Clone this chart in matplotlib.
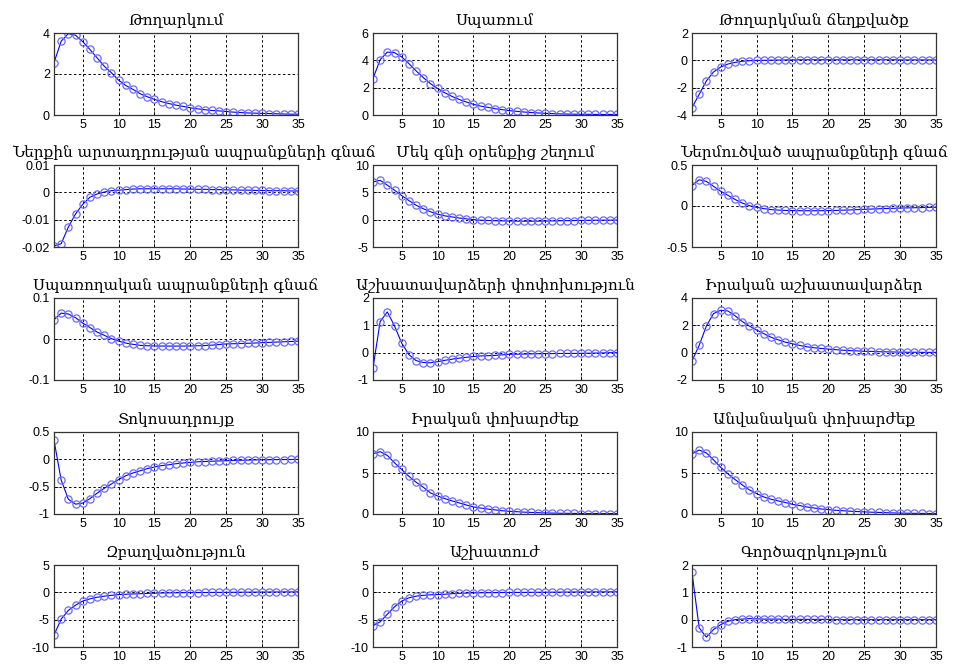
import matplotlib
matplotlib.use("Agg")
import matplotlib.pyplot as plt
import numpy as np

periods = np.arange(1, 36)

titles = [
    "Թողարկում",
    "Սպառում",
    "Թողարկման ճեղքվածք",
    "Ներքին արտադրության ապրանքների գնաճ",
    "Մեկ գնի օրենքից շեղում",
    "Ներմուծված ապրանքների գնաճ",
    "Սպառողական ապրանքների գնաճ",
    "Աշխատավարձերի փոփոխություն",
    "Իրական աշխատավարձեր",
    "Տոկոսադրույք",
    "Իրական փոխարժեք",
    "Անվանական փոխարժեք",
    "Զբաղվածություն",
    "Աշխատուժ",
    "Գործազրկություն",
]

output = [2.55, 3.6, 3.97, 3.89, 3.58, 3.2, 2.79, 2.38, 2.06, 1.7, 1.44, 1.25,
          1.04, 0.89, 0.76, 0.65, 0.56, 0.48, 0.42, 0.35, 0.3, 0.26, 0.22, 0.2,
          0.17, 0.14, 0.12, 0.1, 0.09, 0.08, 0.07, 0.06, 0.05, 0.04, 0.04]
consumption = [2.67, 4.05, 4.6, 4.56, 4.25, 3.76, 3.23, 2.74, 2.3, 1.94, 1.63,
               1.36, 1.14, 0.95, 0.78, 0.65, 0.56, 0.46, 0.39, 0.32, 0.27, 0.22,
               0.18, 0.15, 0.12, 0.1, 0.08, 0.07, 0.06, 0.05, 0.05, 0.04, 0.04,
               0.04, 0.04]
output_gap = [-3.46, -2.49, -1.51, -0.85, -0.49, -0.27, -0.15, -0.07, -0.03,
              -0.01, 0.0, 0.01, 0.02, 0.03, 0.03, 0.04, 0.04, 0.04, 0.04, 0.04,
              0.04, 0.04, 0.04, 0.04, 0.04, 0.04, 0.04, 0.04, 0.04, 0.03, 0.03,
              0.03, 0.03, 0.03, 0.03]
domestic_infl = [-0.0196, -0.0188, -0.0127, -0.0079, -0.0044, -0.0018, -0.0006,
                 0.0001, 0.0006, 0.0008, 0.001, 0.0012, 0.0013, 0.0013, 0.0013,
                 0.0013, 0.0013, 0.0013, 0.0012, 0.0012, 0.0011, 0.0011, 0.001,
                 0.001, 0.0009, 0.0009, 0.0008, 0.0008, 0.0007, 0.0007, 0.0006,
                 0.0006, 0.0006, 0.0005, 0.0005]
lop_gap = [6.9, 7.2, 6.3, 5.4, 4.4, 3.5, 2.65, 2.0, 1.45, 1.0, 0.7, 0.5, 0.3,
           0.15, 0.0, -0.1, -0.15, -0.2, -0.22, -0.25, -0.27, -0.28, -0.28,
           -0.27, -0.25, -0.23, -0.2, -0.18, -0.16, -0.14, -0.12, -0.1, -0.09,
           -0.08, -0.07]
import_infl = [0.25, 0.32, 0.3, 0.24, 0.18, 0.13, 0.08, 0.036, 0.004, -0.016,
               -0.032, -0.044, -0.05, -0.054, -0.056, -0.057, -0.058, -0.058,
               -0.057, -0.056, -0.054, -0.051, -0.048, -0.044, -0.04, -0.037,
               -0.034, -0.031, -0.028, -0.025, -0.023, -0.021, -0.019, -0.017,
               -0.016]
cpi_infl = [0.047, 0.063, 0.061, 0.052, 0.039, 0.028, 0.017, 0.009, 0.001,
            -0.005, -0.01, -0.013, -0.0155, -0.0165, -0.017, -0.0172, -0.0173,
            -0.0173, -0.0172, -0.017, -0.0165, -0.016, -0.015, -0.0135, -0.012,
            -0.0115, -0.011, -0.0105, -0.0098, -0.009, -0.0083, -0.0075,
            -0.0068, -0.006, -0.0052]
wage_growth = [-0.55, 1.14, 1.49, 0.98, 0.35, -0.07, -0.29, -0.36, -0.37, -0.33,
               -0.28, -0.24, -0.2, -0.17, -0.14, -0.12, -0.11, -0.1, -0.08,
               -0.06, -0.055, -0.05, -0.045, -0.04, -0.035, -0.033, -0.03,
               -0.028, -0.027, -0.025, -0.02, -0.015, -0.01, 0.0, 0.0]
real_wages = [-0.6, 0.53, 1.95, 2.86, 3.1, 3.05, 2.7, 2.28, 1.95, 1.66, 1.39,
              1.13, 0.94, 0.77, 0.65, 0.53, 0.43, 0.36, 0.31, 0.26, 0.22, 0.18,
              0.15, 0.13, 0.1, 0.09, 0.07, 0.06, 0.05, 0.04, 0.03, 0.03, 0.02,
              0.02, 0.02]
interest_rate = [0.35, -0.38, -0.73, -0.82, -0.8, -0.72, -0.62, -0.53, -0.45,
                 -0.37, -0.3, -0.25, -0.21, -0.17, -0.14, -0.115, -0.1, -0.08,
                 -0.067, -0.055, -0.045, -0.04, -0.035, -0.03, -0.025, -0.02,
                 -0.017, -0.014, -0.011, -0.009, -0.007, -0.005, -0.004, -0.003,
                 -0.002]
real_exrate = [7.35, 7.6, 7.14, 6.24, 5.43, 4.6, 3.88, 3.27, 2.57, 2.2, 1.88,
               1.6, 1.35, 1.1, 0.86, 0.73, 0.6, 0.5, 0.4, 0.33, 0.28, 0.23, 0.19,
               0.16, 0.13, 0.11, 0.09, 0.08, 0.07, 0.06, 0.05, 0.05, 0.05, 0.05,
               0.05]
nominal_exrate = [7.35, 7.8, 7.45, 6.6, 5.7, 4.9, 4.2, 3.55, 2.94, 2.5, 2.08,
                  1.8, 1.6, 1.4, 1.18, 1.02, 0.86, 0.73, 0.61, 0.53, 0.45, 0.4,
                  0.34, 0.3, 0.26, 0.22, 0.19, 0.16, 0.13, 0.11, 0.09, 0.08,
                  0.07, 0.06, 0.05]
employment = [-7.8, -4.9, -3.3, -2.35, -1.6, -1.2, -0.9, -0.7, -0.55, -0.42,
              -0.35, -0.3, -0.25, -0.2, -0.15, -0.12, -0.1, -0.08, -0.06, -0.05,
              -0.04, -0.03, -0.02, -0.01, 0.0, 0.01, 0.02, 0.03, 0.04, 0.05,
              0.06, 0.07, 0.08, 0.08, 0.09]
labour_force = [-6.1, -5.4, -4.0, -2.65, -1.6, -1.0, -0.7, -0.55, -0.45, -0.4,
                -0.35, -0.25, -0.18, -0.14, -0.1, -0.08, -0.06, -0.05, -0.04,
                -0.03, -0.02, -0.01, 0.0, 0.01, 0.02, 0.03, 0.04, 0.05, 0.06,
                0.07, 0.08, 0.08, 0.09, 0.09, 0.1]
unemployment = [1.73, -0.3, -0.64, -0.36, -0.18, -0.06, 0.0, 0.02, 0.04, 0.03,
                0.02, 0.02, 0.02, 0.01, 0.01, 0.01, 0.01, 0.01, 0.01, 0.01, 0.0,
                0.0, 0.0, 0.0, 0.0, 0.0, 0.0, 0.0, 0.0, 0.0, 0.0, 0.0, 0.0, 0.0,
                0.0]

series = [output, consumption, output_gap, domestic_infl, lop_gap, import_infl,
          cpi_infl, wage_growth, real_wages, interest_rate, real_exrate,
          nominal_exrate, employment, labour_force, unemployment]

y_ticks = [
    [0, 2, 4], [0, 2, 4, 6], [-4, -2, 0, 2],
    [-0.02, -0.01, 0, 0.01], [-5, 0, 5, 10], [-0.5, 0, 0.5],
    [-0.1, 0, 0.1], [-1, 0, 1, 2], [-2, 0, 2, 4],
    [-1, -0.5, 0, 0.5], [0, 5, 10], [0, 5, 10],
    [-10, -5, 0, 5], [-10, -5, 0, 5], [-1, 0, 1, 2],
]
x_ticks = [5, 10, 15, 20, 25, 30, 35]

W, H = 956, 664
col_left = [54, 373, 692]
row_top = [33, 165, 298, 432, 565]
ax_w, ax_h = 244, 82

fig = plt.figure(figsize=(W / 100, H / 100), dpi=100)
fig.patch.set_facecolor("white")

title_objs = []
for i, (title, vals, yt) in enumerate(zip(titles, series, y_ticks)):
    r, c = divmod(i, 3)
    left = col_left[c] / W
    bottom = 1 - (row_top[r] + ax_h) / H
    ax = fig.add_axes([left, bottom, ax_w / W, ax_h / H])

    ax.plot(periods, vals, color="#0000ff", lw=0.8, marker="o", ms=5.2,
            mfc="none", mec="#6a6aff", mew=0.9)

    ax.set_xlim(1, 35)
    ax.set_ylim(yt[0], yt[-1])
    ax.set_xticks(x_ticks)
    ax.set_yticks(yt)
    ax.set_yticklabels([f"{t:g}" for t in yt])
    ax.grid(True, color="black", ls=(0, (2.5, 2.5)), lw=0.7)
    ax.tick_params(direction="in", length=3, width=0.6, labelsize=9,
                   pad=3, colors="black")
    for lbl in ax.get_xticklabels() + ax.get_yticklabels():
        lbl.set_family("Liberation Sans")
    for sp in ax.spines.values():
        sp.set_linewidth(0.9)
        sp.set_color("#333333")

    t = ax.set_title(title, fontsize=11, pad=6,
                     family=["DejaVu Serif", "DejaVu Sans"])
    title_objs.append((ax, t))

# keep long titles inside the figure, as MATLAB does
fig.canvas.draw()
renderer = fig.canvas.get_renderer()
for ax, t in title_objs:
    bb = t.get_window_extent(renderer)
    shift = 0
    if bb.x0 < 12:
        shift = 12 - bb.x0
    elif bb.x1 > W - 6:
        shift = (W - 6) - bb.x1
    if shift:
        ax_bb = ax.get_window_extent(renderer)
        x, y = t.get_position()
        t.set_position((x + shift / ax_bb.width, y))

fig.savefig("out.png", dpi=100, facecolor="white")
